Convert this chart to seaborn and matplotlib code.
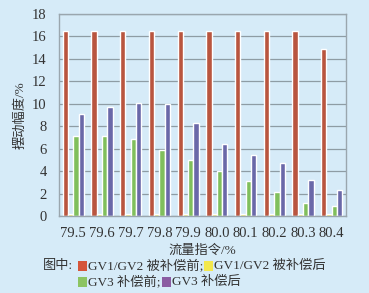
import matplotlib
matplotlib.use("Agg")
import matplotlib.pyplot as plt
import seaborn as sns
import pandas as pd
from matplotlib.patches import Rectangle

categories = ["79.5", "79.6", "79.7", "79.8", "79.9", "80.0", "80.1", "80.2", "80.3", "80.4"]
gv12_before = [16.5, 16.5, 16.5, 16.5, 16.5, 16.5, 16.5, 16.5, 16.5, 14.9]
gv12_after = [0.2, 0.2, 0.2, 0.2, 0.2, 0.2, 0.2, 0.2, 0.2, 0.2]
gv3_before = [7.1, 7.1, 6.85, 5.9, 5.0, 4.0, 3.1, 2.1, 1.2, 0.85]
gv3_after = [9.1, 9.7, 10.05, 10.0, 8.3, 6.4, 5.4, 4.7, 3.2, 2.3]
series_names = ["GV1/GV2 被补偿前", "GV1/GV2 被补偿后", "GV3 补偿前", "GV3 补偿后"]
bar_colors = ["#b9553f", "#e9e25a", "#80bf5c", "#6a68a8"]
legend_colors = ["#d5553a", "#f3e84e", "#8cc462", "#8a5ca2"]
y_ticks = [0, 2, 4, 6, 8, 10, 12, 14, 16, 18]
x_label = "流量指令/%"
y_label = "摆动幅度/%"

rows = []
for name, vals in zip(series_names, [gv12_before, gv12_after, gv3_before, gv3_after]):
    for c, v in zip(categories, vals):
        rows.append({"cat": c, "series": name, "val": v})
df = pd.DataFrame(rows)

sns.set_theme(style="white")
plt.rcParams["font.family"] = ["Liberation Serif", "Noto Sans CJK SC"]
bg = "#d6ebf8"
W, H = 369, 293
fig = plt.figure(figsize=(W / 100, H / 100), dpi=100, facecolor=bg)
ax = fig.add_axes([59 / W, 1 - 216 / H, (346 - 59) / W, (216 - 14) / H])
ax.set_facecolor(bg)

sns.barplot(data=df, x="cat", y="val", hue="series", hue_order=series_names,
            palette=bar_colors, width=0.74, ax=ax, legend=False, saturation=1)

ax.set_ylim(0, 18)
ax.set_yticks(y_ticks)
ax.set_yticklabels([str(t) for t in y_ticks], fontsize=10.5, color="#333333")
ax.tick_params(axis="x", labelsize=10.5, colors="#333333", length=0, pad=8)
ax.tick_params(axis="y", length=0, pad=9)
ax.set_xlim(-0.5, 9.5)
ax.yaxis.grid(True, color="#8e9ca4", lw=0.9)
ax.set_axisbelow(True)
for s in ax.spines.values():
    s.set_color("#9aa6ae")
    s.set_linewidth(1.0)
ax.set_xlabel(x_label, fontsize=9.5, color="#333333", labelpad=3)
ax.set_ylabel(y_label, fontsize=9.5, color="#333333", labelpad=4)

# custom legend
fig.canvas.draw()
renderer = fig.canvas.get_renderer()
fs = 9.5

def put_text(x, y, s):
    t = fig.text(x / W, 1 - y / H, s, fontsize=fs, color="#333333", va="center", ha="left")
    bb = t.get_window_extent(renderer=renderer)
    return bb.x1

def put_square(x, y, color):
    fig.patches.append(Rectangle((x / W, 1 - (y + 5) / H), 9 / W, 10 / H,
                                 transform=fig.transFigure, facecolor=color, edgecolor="none"))
    return x + 10

y1, y2 = 266, 282
x = put_text(43, y1, "图中:")
x = 78
x = put_square(x, y1, legend_colors[0])
x = put_text(x, y1, series_names[0] + ";")
x = put_square(x + 1, y1, legend_colors[1])
put_text(x, y1, series_names[1])
x = put_square(78, y2, legend_colors[2])
x = put_text(x, y2, series_names[2] + ";")
x = put_square(x + 1, y2, legend_colors[3])
put_text(x, y2, series_names[3])

fig.savefig("out.png", dpi=100, facecolor=bg)
